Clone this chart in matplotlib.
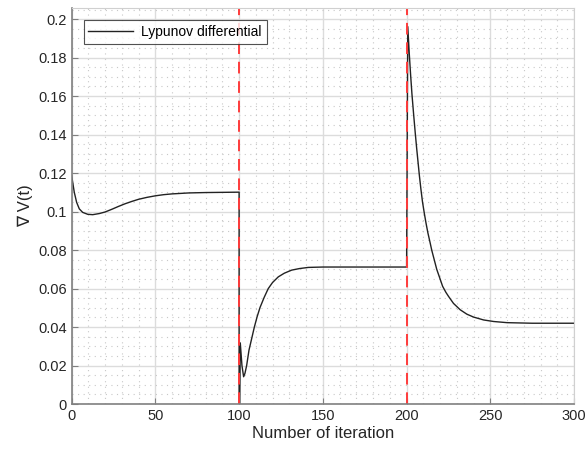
import matplotlib
matplotlib.use("Agg")
import matplotlib.pyplot as plt
import numpy as np
from matplotlib.ticker import MultipleLocator

plt.rcParams["font.family"] = ["Liberation Sans", "DejaVu Sans"]

# values
t_first = [0, 1.6, 3.0, 4.6, 6.6, 9.6, 12.6, 16.6, 20, 24, 28, 32, 36, 40, 45, 50, 55,
           60, 70, 80, 90, 100]
v_first = [0.1187, 0.1100, 0.1048, 0.1014, 0.0996, 0.0986, 0.0984, 0.0990, 0.0998, 0.1012,
           0.1027, 0.1041, 0.1053, 0.1064, 0.1074, 0.1082, 0.1088, 0.1092, 0.1097, 0.1099,
           0.1100, 0.1101]

t_second = [100, 100.4, 100.7, 101.7, 102.7, 103.5, 104.5, 105.9, 107.5, 109.1, 110.8,
            112.5, 115, 117.4, 120, 123.4, 127, 131.4, 136, 141.3, 150, 170, 200]
v_second = [0.0, 0.0, 0.0318, 0.0200, 0.0142, 0.0160, 0.0200, 0.0280, 0.0340, 0.0400,
            0.0455, 0.0502, 0.0555, 0.0600, 0.0632, 0.0661, 0.0680, 0.0696, 0.0704, 0.0710,
            0.0712, 0.0712, 0.0712]

t_third = [200, 200.7, 201.6, 202.4, 203.2, 204.2, 205.2, 206.0, 206.8, 207.6, 208.5,
           209.5, 210.6, 211.6, 212.7, 214.0, 215.0, 216.5, 218.0, 220.0, 221.5, 223.5,
           225, 228, 232, 236, 240, 246, 252, 260, 275, 300]
v_third = [0.0712, 0.1961, 0.1820, 0.1710, 0.1610, 0.1505, 0.1405, 0.1330, 0.1260, 0.1190,
           0.1120, 0.1050, 0.0990, 0.0940, 0.0890, 0.0840, 0.0800, 0.0750, 0.0700, 0.0650,
           0.0612, 0.0580, 0.0560, 0.0523, 0.0490, 0.0467, 0.0452, 0.0437, 0.0429, 0.0423,
           0.0420, 0.0420]

switch_points = [100, 200]

t_all = np.concatenate([t_first, t_second, t_third])
v_all = np.concatenate([v_first, v_second, v_third])

fig = plt.figure(figsize=(5.87, 4.53), dpi=100)
ax = fig.add_axes([0.122, 0.108, 0.856, 0.874])

ax.grid(True, which="major", color="#dcdcdc", linewidth=1.0)
ax.grid(True, which="minor", color="#c8c8c8", linestyle=(0, (1, 4)), linewidth=0.8)
ax.set_axisbelow(True)

ax.plot(t_all, v_all, color="#222222", linewidth=1.0, label="Lypunov differential")
for xs in switch_points:
    ax.axvline(xs, color="#ff3b3b", linestyle=(0, (6, 4)), linewidth=1.4)

ax.set_xlim(0, 300)
ax.set_ylim(0, 0.2057)
ax.xaxis.set_major_locator(MultipleLocator(50))
ax.xaxis.set_minor_locator(MultipleLocator(10))
ax.yaxis.set_minor_locator(MultipleLocator(0.005))
ax.set_yticks(np.arange(0, 0.201, 0.02))
ax.set_yticklabels(["0", "0.02", "0.04", "0.06", "0.08", "0.1", "0.12", "0.14",
                    "0.16", "0.18", "0.2"])

ax.tick_params(which="both", direction="in", colors="#808080", labelcolor="#262626",
               labelsize=10.5, top=False, right=False)
ax.tick_params(which="minor", length=0)
ax.tick_params(which="major", length=4)
for side in ["left", "bottom"]:
    ax.spines[side].set_color("#808080")
    ax.spines[side].set_linewidth(1.2)
for side in ["top", "right"]:
    ax.spines[side].set_color("#d0d0d0")

ax.set_xlabel("Number of iteration", fontsize=12, color="#262626", labelpad=2)
ax.set_ylabel("\u2207 V(t)", fontsize=12, color="#262626", labelpad=4)

leg = ax.legend(loc="upper left", bbox_to_anchor=(0.01, 0.987), fontsize=10,
                frameon=True, fancybox=False, handlelength=3.2, borderpad=0.35,
                handletextpad=0.6)
leg.get_frame().set_edgecolor("#262626")
leg.get_frame().set_linewidth(0.8)

fig.savefig("out.png", dpi=100)
